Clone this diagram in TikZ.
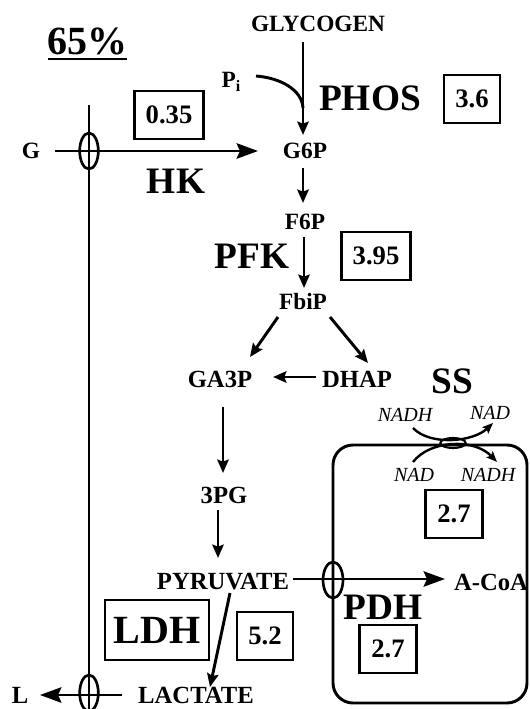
\documentclass[tikz,border=0pt]{standalone}
\usepackage{fontspec}
\setmainfont{Liberation Serif}
\usetikzlibrary{arrows.meta,shapes.geometric}
\begin{document}
\begin{tikzpicture}[x=0.75pt,y=-0.75pt,
 lbl/.style={font=\fontsize{17.5}{20}\selectfont\bfseries, inner sep=0pt, outer sep=0pt},
 big/.style={font=\fontsize{28}{32}\selectfont\bfseries, inner sep=0pt},
 numbox/.style={draw, line width=2.2pt, font=\fontsize{20}{24}\selectfont\bfseries, inner sep=0pt, minimum height=36pt},
 ital/.style={font=\fontsize{15}{18}\selectfont\itshape, inner sep=0pt},
 arr/.style={line width=2.2pt, -{Stealth[length=10pt,width=8.5pt,inset=1.5pt]}},
 wide/.style={line width=2.2pt, -{Stealth[length=16pt,width=11.5pt,inset=2.5pt]}},
 plain/.style={line width=2.2pt},
 pore/.style={draw, ellipse, line width=2pt, inner sep=0pt, minimum width=14pt, minimum height=27pt},
]
\useasboundingbox (0,0) rectangle (530,709);

% labels
\node[font=\fontsize{30}{34}\selectfont\bfseries, inner sep=0pt] (pct) at (87,41) {65\%};
\node[lbl] (glyc) at (318,24) {GLYCOGEN};
\node[lbl] (pi) at (231,82) {P\raisebox{-0.35ex}{\fontsize{12}{12}\selectfont i}};
\node[big] (phos) at (370,98) {PHOS};
\node[numbox, minimum width=42pt] (b36) at (472,99) {3.6};
\node[numbox, minimum width=52pt] (b035) at (169,115) {0.35};
\node[lbl] (G) at (31,151) {G};
\node[lbl] (g6p) at (305,151) {G6P};
\node[big] (hk) at (176,181) {HK};
\node[lbl] (f6p) at (305,222) {F6P};
\node[big] (pfk) at (252,256) {PFK};
\node[numbox, minimum width=52pt] (b395) at (376,256) {3.95};
\node[lbl] (fbip) at (303,302) {FbiP};
\node[lbl, font=\fontsize{18.5}{21}\selectfont\bfseries] (ga3p) at (220,379) {GA3P};
\node[lbl, font=\fontsize{18.5}{21}\selectfont\bfseries] (dhap) at (357,379) {DHAP};
\node[big] (ss) at (452,381) {SS};
\node[ital] (nadh1) at (405,415) {NADH};
\node[ital] (nad1) at (490,413) {NAD};
\node[ital] (nad2) at (414,475) {NAD};
\node[ital] (nadh2) at (488,475) {NADH};
\node[numbox, minimum width=43pt] (b27a) at (454,514) {2.7};
\node[lbl, font=\fontsize{18.5}{21}\selectfont\bfseries] (pg3) at (224,495) {3PG};
\node[lbl, font=\fontsize{18.5}{21}\selectfont\bfseries] (pyr) at (223,582) {PYRUVATE};
\node[lbl, font=\fontsize{18.5}{21}\selectfont\bfseries] (acoa) at (491,582) {A-CoA};
\node[big] (pdh) at (383,607) {PDH};
\node[numbox, minimum width=43pt] (b27b) at (388,649) {2.7};
\node[draw, line width=2.2pt, font=\fontsize{30}{34}\selectfont\bfseries, inner sep=0pt, minimum width=78pt, minimum height=45pt] (ldh) at (157,630) {LDH};
\node[numbox, minimum width=42pt] (b52) at (265,636) {5.2};
\node[lbl, font=\fontsize{18.5}{21}\selectfont\bfseries] (lac) at (196,695) {LACTATE};
\node[lbl, font=\fontsize{18.5}{21}\selectfont\bfseries] (L) at (20,695) {L};

% underline of 65%
\draw[plain] ([shift={(-39,18)}]pct.center) -- ([shift={(40,18)}]pct.center);

% mitochondrion
\node[draw, rounded corners=15pt, line width=2.2pt, minimum width=145.5pt, minimum height=193.5pt] (mito) at (430,574) {};

% membrane (left vertical line) and pores
\coordinate (vtop) at (89,105);
\coordinate (vbot) at (89,712);
\draw[plain] (vtop) -- (vbot);
\node[pore] (e1) at (89,151) {};
\node[pore] (e3) at (89,693) {};
\node[pore, minimum width=15pt] (e2) at (333,580) {};
\node[draw, ellipse, line width=1.6pt, inner sep=0pt, minimum width=19pt, minimum height=7.5pt] (e4) at (453,443) {};

% glycogen -> G6P with Pi
\coordinate (join) at (303,108);
\draw[arr] ([shift={(-15,18)}]glyc.center) -- ([shift={(-2,-16)}]g6p.center);
\draw[plain] ([shift={(25,-6)}]pi.center) .. controls ([shift={(50,-4)}]pi.center) and ([shift={(71,8)}]pi.center) .. (join);

% G -> G6P
\draw[wide] ([shift={(24,0)}]G.center) -- ([shift={(-47,0)}]g6p.center);

% main chain
\draw[arr] ([shift={(-2,17)}]g6p.center) -- ([shift={(-2,-19)}]f6p.center);
\draw[arr] ([shift={(-1,15)}]f6p.center) -- ([shift={(1,-14)}]fbip.center);
\draw[arr] ([shift={(-25,15)}]fbip.center) -- ([shift={(30,-22)}]ga3p.center);
\draw[arr] ([shift={(27,15)}]fbip.center) -- ([shift={(11,-16)}]dhap.center);
\draw[arr] ([shift={(-41,-2)}]dhap.center) -- ([shift={(53,-2)}]ga3p.center);
\draw[arr] ([shift={(3,28)}]ga3p.center) -- ([shift={(-1,-22)}]pg3.center);
\draw[arr] ([shift={(-6,15)}]pg3.center) -- ([shift={(-5,-24)}]pyr.center);
\draw[arr] ([shift={(7,11)}]pyr.center) -- ([shift={(14,-8)}]lac.center);

% pyruvate -> A-CoA
\draw[wide] ([shift={(70,-3)}]pyr.center) -- ([shift={(-46,-3)}]acoa.center);

% lactate -> L
\draw[wide] ([shift={(-74,0)}]lac.center) -- ([shift={(20,0)}]L.center);

% NADH shuttle
\draw[line width=1.8pt, -{Stealth[length=8pt,width=6.5pt,inset=1.5pt]}] ([shift={(8,13)}]nadh1.center) .. controls ([shift={(25,31)}]nadh1.center) and ([shift={(68,27)}]nadh1.center) .. ([shift={(3,10)}]nad1.center);
\draw[line width=1.8pt, -{Stealth[length=8pt,width=6.5pt,inset=1.5pt]}] ([shift={(-1,-13)}]nad2.center) .. controls ([shift={(16,-35)}]nad2.center) and ([shift={(60,-37)}]nad2.center) .. ([shift={(9,-13)}]nadh2.center);
\end{tikzpicture}
\end{document}
